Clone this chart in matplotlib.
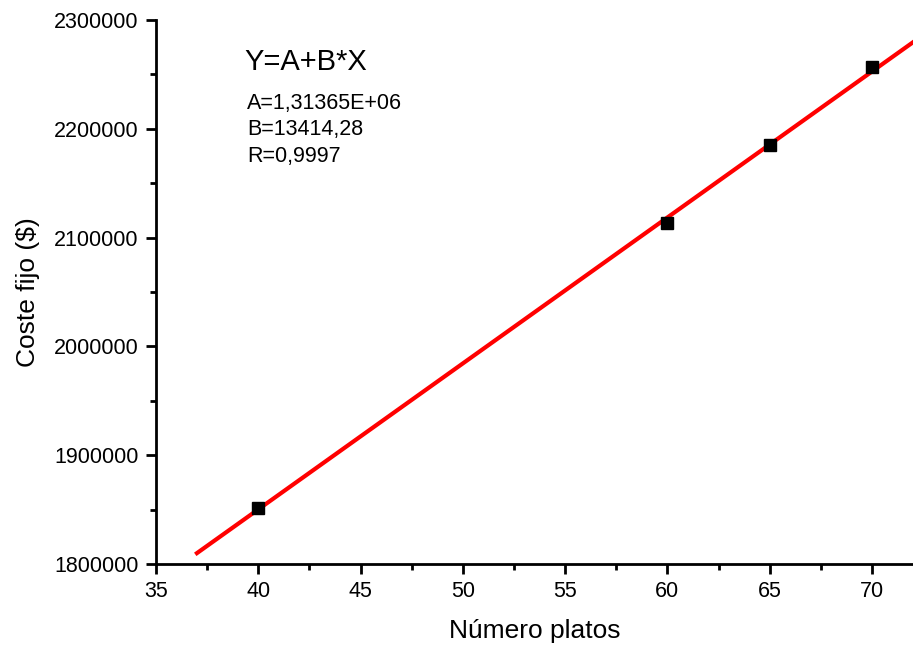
import numpy as np
import matplotlib
matplotlib.use('Agg')
import matplotlib.pyplot as plt
from matplotlib.ticker import MultipleLocator, FormatStrFormatter

plt.rcParams['font.family'] = ['Liberation Sans', 'DejaVu Sans']

# measured points
platos = [40, 60, 65, 70]
coste = [1851500, 2113400, 2185100, 2256800]

# linear fit parameters
A = 1.31365e6
B = 13414.28
R = 0.9997
fit_x = [37, 72]

fig = plt.figure(figsize=(9.13, 6.45), dpi=100)
ax = fig.add_axes([0.1709, 0.1256, 0.829, 0.8434])

xf = np.array(fit_x, dtype=float)
ax.plot(xf, A + B * xf, color='#ff0000', lw=3, zorder=2, clip_on=False)
ax.plot(platos, coste, 's', color='black', ms=9, zorder=3)

ax.set_xlim(35, 72)
ax.set_ylim(1800000, 2300000)
ax.xaxis.set_major_locator(MultipleLocator(5))
ax.xaxis.set_minor_locator(MultipleLocator(2.5))
ax.yaxis.set_major_locator(MultipleLocator(100000))
ax.yaxis.set_minor_locator(MultipleLocator(50000))
ax.yaxis.set_major_formatter(FormatStrFormatter('%d'))
ax.xaxis.set_major_formatter(FormatStrFormatter('%d'))

for side in ('top', 'right'):
    ax.spines[side].set_visible(False)
for side in ('left', 'bottom'):
    ax.spines[side].set_linewidth(2)

ax.tick_params(which='major', direction='out', length=7.5, width=2, labelsize=15.5, pad=5)
ax.tick_params(which='minor', direction='out', length=4, width=2)

ax.set_xlabel('Número platos', fontsize=19, labelpad=12)
ax.set_ylabel('Coste fijo ($)', fontsize=19, labelpad=10)

ax.text(0.117, 0.923, 'Y=A+B*X', transform=ax.transAxes, fontsize=21, va='center')
ax.text(0.12, 0.846, 'A=1,31365E+06', transform=ax.transAxes, fontsize=15.5, va='center')
ax.text(0.12, 0.798, 'B=13414,28', transform=ax.transAxes, fontsize=15.5, va='center')
ax.text(0.12, 0.749, 'R=0,9997', transform=ax.transAxes, fontsize=15.5, va='center')

fig.savefig('out.png', dpi=100)
